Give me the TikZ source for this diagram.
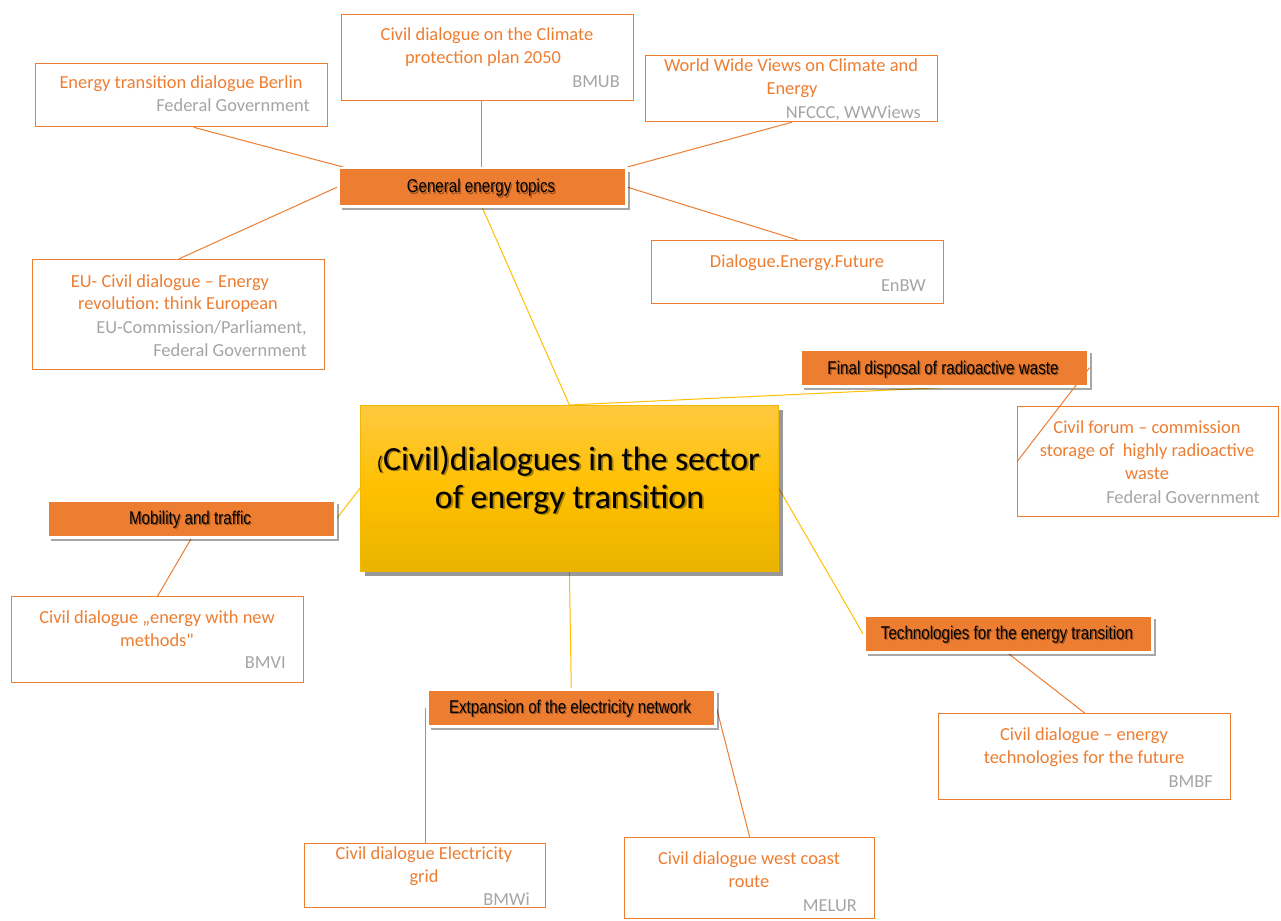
\documentclass[tikz,border=0pt]{standalone}
\usepackage{fontspec}
\setmainfont{Carlito}
\newfontfamily\plainquote[Ligatures=ResetAll]{Carlito}
\newfontfamily\narrowfont[FakeStretch=0.82]{Liberation Sans}
\usetikzlibrary{shadows,backgrounds}
\frenchspacing

\definecolor{accent}{HTML}{ED7D31}
\definecolor{srcgray}{HTML}{A5A5A5}
\definecolor{linkyellow}{HTML}{FFC000}
\definecolor{hubtop}{HTML}{FFC940}
\definecolor{hubmid}{HTML}{FFC000}
\definecolor{hubbot}{HTML}{E9B300}
\definecolor{hubedge}{HTML}{F0B800}

\tikzset{
  infobox/.style={draw=accent, line width=1.3pt, fill=white, anchor=north west,
    inner sep=0pt},
  topicbox/.style={fill=accent, draw=white, line width=2.5pt, anchor=north west,
    inner sep=0pt,
    drop shadow={shadow xshift=4pt, shadow yshift=-4pt, fill=black, opacity=0.35}},
  hubbox/.style={anchor=north west, inner sep=0pt, draw=hubedge, line width=0.8pt,
    top color=hubtop, bottom color=hubbot, middle color=hubmid,
    drop shadow={shadow xshift=5pt, shadow yshift=-5pt, fill=black, opacity=0.4}},
  subline/.style={draw=accent, line width=1pt},
  hubline/.style={draw=linkyellow, line width=1pt},
  title/.style={text=accent, font=\fontsize{18.4}{23}\selectfont, anchor=base,
    inner sep=0pt},
  source/.style={text=srcgray, font=\fontsize{18.4}{23}\selectfont, anchor=base east,
    inner sep=0pt},
  topictext/.style={font=\narrowfont\fontsize{18.5}{20}\selectfont, anchor=base,
    inner sep=0pt},
  hubtext/.style={font=\fontsize{33.8}{38}\selectfont, anchor=base, inner sep=0pt},
}

% a white box with an orange frame: name, left, top, right, bottom
\newcommand\infobox[5]{%
  \node[infobox, minimum width={#4-#2}, minimum height={#5-#3}] (#1) at (#2,#3) {};}
% an orange topic box: name, left, top, right, bottom
\newcommand\topicbox[5]{%
  \node[topicbox, minimum width={#4-#2}, minimum height={#5-#3}] (#1) at (#2,#3) {};}
% topic label with a soft shadow
\newcommand\topiclabel[3]{%
  \node[topictext, text=black, opacity=0.35] at (#1+1.3,#2+1.3) {#3};
  \node[topictext, text=black] at (#1,#2) {#3};}

\begin{document}
\begin{tikzpicture}[x=1pt, y=-1pt]
\useasboundingbox (0,0) rectangle (1281,920);

% ---------- central box ----------
\node[hubbox, minimum width=418, minimum height=166] (hub) at (360,405) {};
\foreach \dx/\op in {1.8/0.35, 0/1}{
  \node[hubtext, opacity=\op] at (568.5+\dx,470+\dx)
    {{\fontsize{20}{22}\selectfont(}Civil)dialogues in the sector};
  \node[hubtext, opacity=\op] at (569.5+\dx,508+\dx) {of energy transition};
}

% ---------- topic boxes ----------
\topicbox{general}{337}{167}{625}{205}
\topicbox{disposal}{799}{348}{1087}{385}
\topicbox{mobility}{46}{499}{334}{536}
\topicbox{technology}{863}{614}{1151}{651}
\topicbox{grid}{426}{688}{714}{725}

\topiclabel{481}{193}{General energy topics}
\topiclabel{943}{374}{Final disposal of radioactive waste}
\topiclabel{190}{524}{Mobility and traffic}
\topiclabel{1007}{639}{Technologies for the energy transition}
\topiclabel{570}{713}{Extpansion of the electricity network}

% ---------- dialogue boxes ----------
\infobox{berlin}{35}{63}{327}{126}
\infobox{climateplan}{341}{14}{633}{100}
\infobox{wwviews}{645}{55}{937}{121}
\infobox{enbw}{651}{240}{943}{303}
\infobox{european}{32}{259}{324}{369}
\infobox{forum}{1017}{406}{1278}{516}
\infobox{methods}{11}{596}{303}{682}
\infobox{future}{938}{713}{1230}{799}
\infobox{electricity}{304}{843}{545}{907}
\infobox{westcoast}{624}{837}{874}{918}

% texts of the dialogue boxes
\node[title] at (181,89) {Energy transition dialogue Berlin};
\node[source] at (310,112) {Federal Government};

\node[title] at (487,41) {Civil dialogue on the Climate};
\node[title] at (483,64) {protection plan 2050};
\node[source] at (620,88) {BMUB};

\node[title] at (791,72) {World Wide Views on Climate and};
\node[title] at (792,95) {Energy};
\node[source] at (921,119) {NFCCC, WWViews};

\node[title] at (797,267) {Dialogue.Energy.Future};
\node[source] at (926,291) {EnBW};

\node[title] at (170,287) {EU- Civil dialogue – Energy};
\node[title] at (178,309) {revolution: think European};
\node[source] at (307,333) {EU-Commission/Parliament,};
\node[source] at (307,356) {Federal Government};

\node[title] at (1147,433) {Civil forum – commission};
\node[title] at (1147,456) {storage of\ \ highly radioactive};
\node[title] at (1147,479) {waste};
\node[source] at (1260,503) {Federal Government};

\node[title] at (157,623) {Civil dialogue „energy with new};
\node[title] at (157,646) {methods{\plainquote"}};
\node[source] at (286,668) {BMVI};

\node[title] at (1084,740) {Civil dialogue – energy};
\node[title] at (1084,763) {technologies for the future};
\node[source] at (1213,787) {BMBF};

\node[title] at (424,859) {Civil dialogue Electricity};
\node[title] at (424,882) {grid};
\node[source] at (530,905) {BMWi};

\node[title] at (749,864) {Civil dialogue west coast};
\node[title] at (749,887) {route};
\node[source] at (857,911) {MELUR};

% the link to the civil forum runs across the corner of its box
\draw[subline] (disposal.east) -- (forum.west);

% ---------- connectors, behind the boxes ----------
\begin{scope}[on background layer]
  \fill[white] (0,0) rectangle (1281,920);
  % hub to topics
  \draw[hubline] (hub.north) -- (general.south);
  \draw[hubline] (hub.north) -- (disposal.south);
  \draw[hubline] (hub.west) -- (mobility.east);
  \draw[hubline] (hub.east) -- (technology.west);
  \draw[hubline] (hub.south) -- (grid.north);
  % topics to dialogues
  \draw[subline] ([xshift=6pt]general.north west) -- ([xshift=12pt]berlin.south);
  \draw[subline] ([xshift=-6pt]climateplan.south) -- ([xshift=-6pt]climateplan.south |- general.north);
  \draw[subline] (general.north east) -- (wwviews.south);
  \draw[subline] (general.east) -- (enbw.north);
  \draw[subline] (general.west) -- (european.north);
  \draw[subline] (mobility.south) -- (methods.north);
  \draw[subline] (technology.south) -- (future.north);
  \draw[subline] (electricity.north |- grid.west) -- (electricity.north);
  \draw[subline] (grid.east) -- (westcoast.north);
\end{scope}
\end{tikzpicture}
\end{document}
